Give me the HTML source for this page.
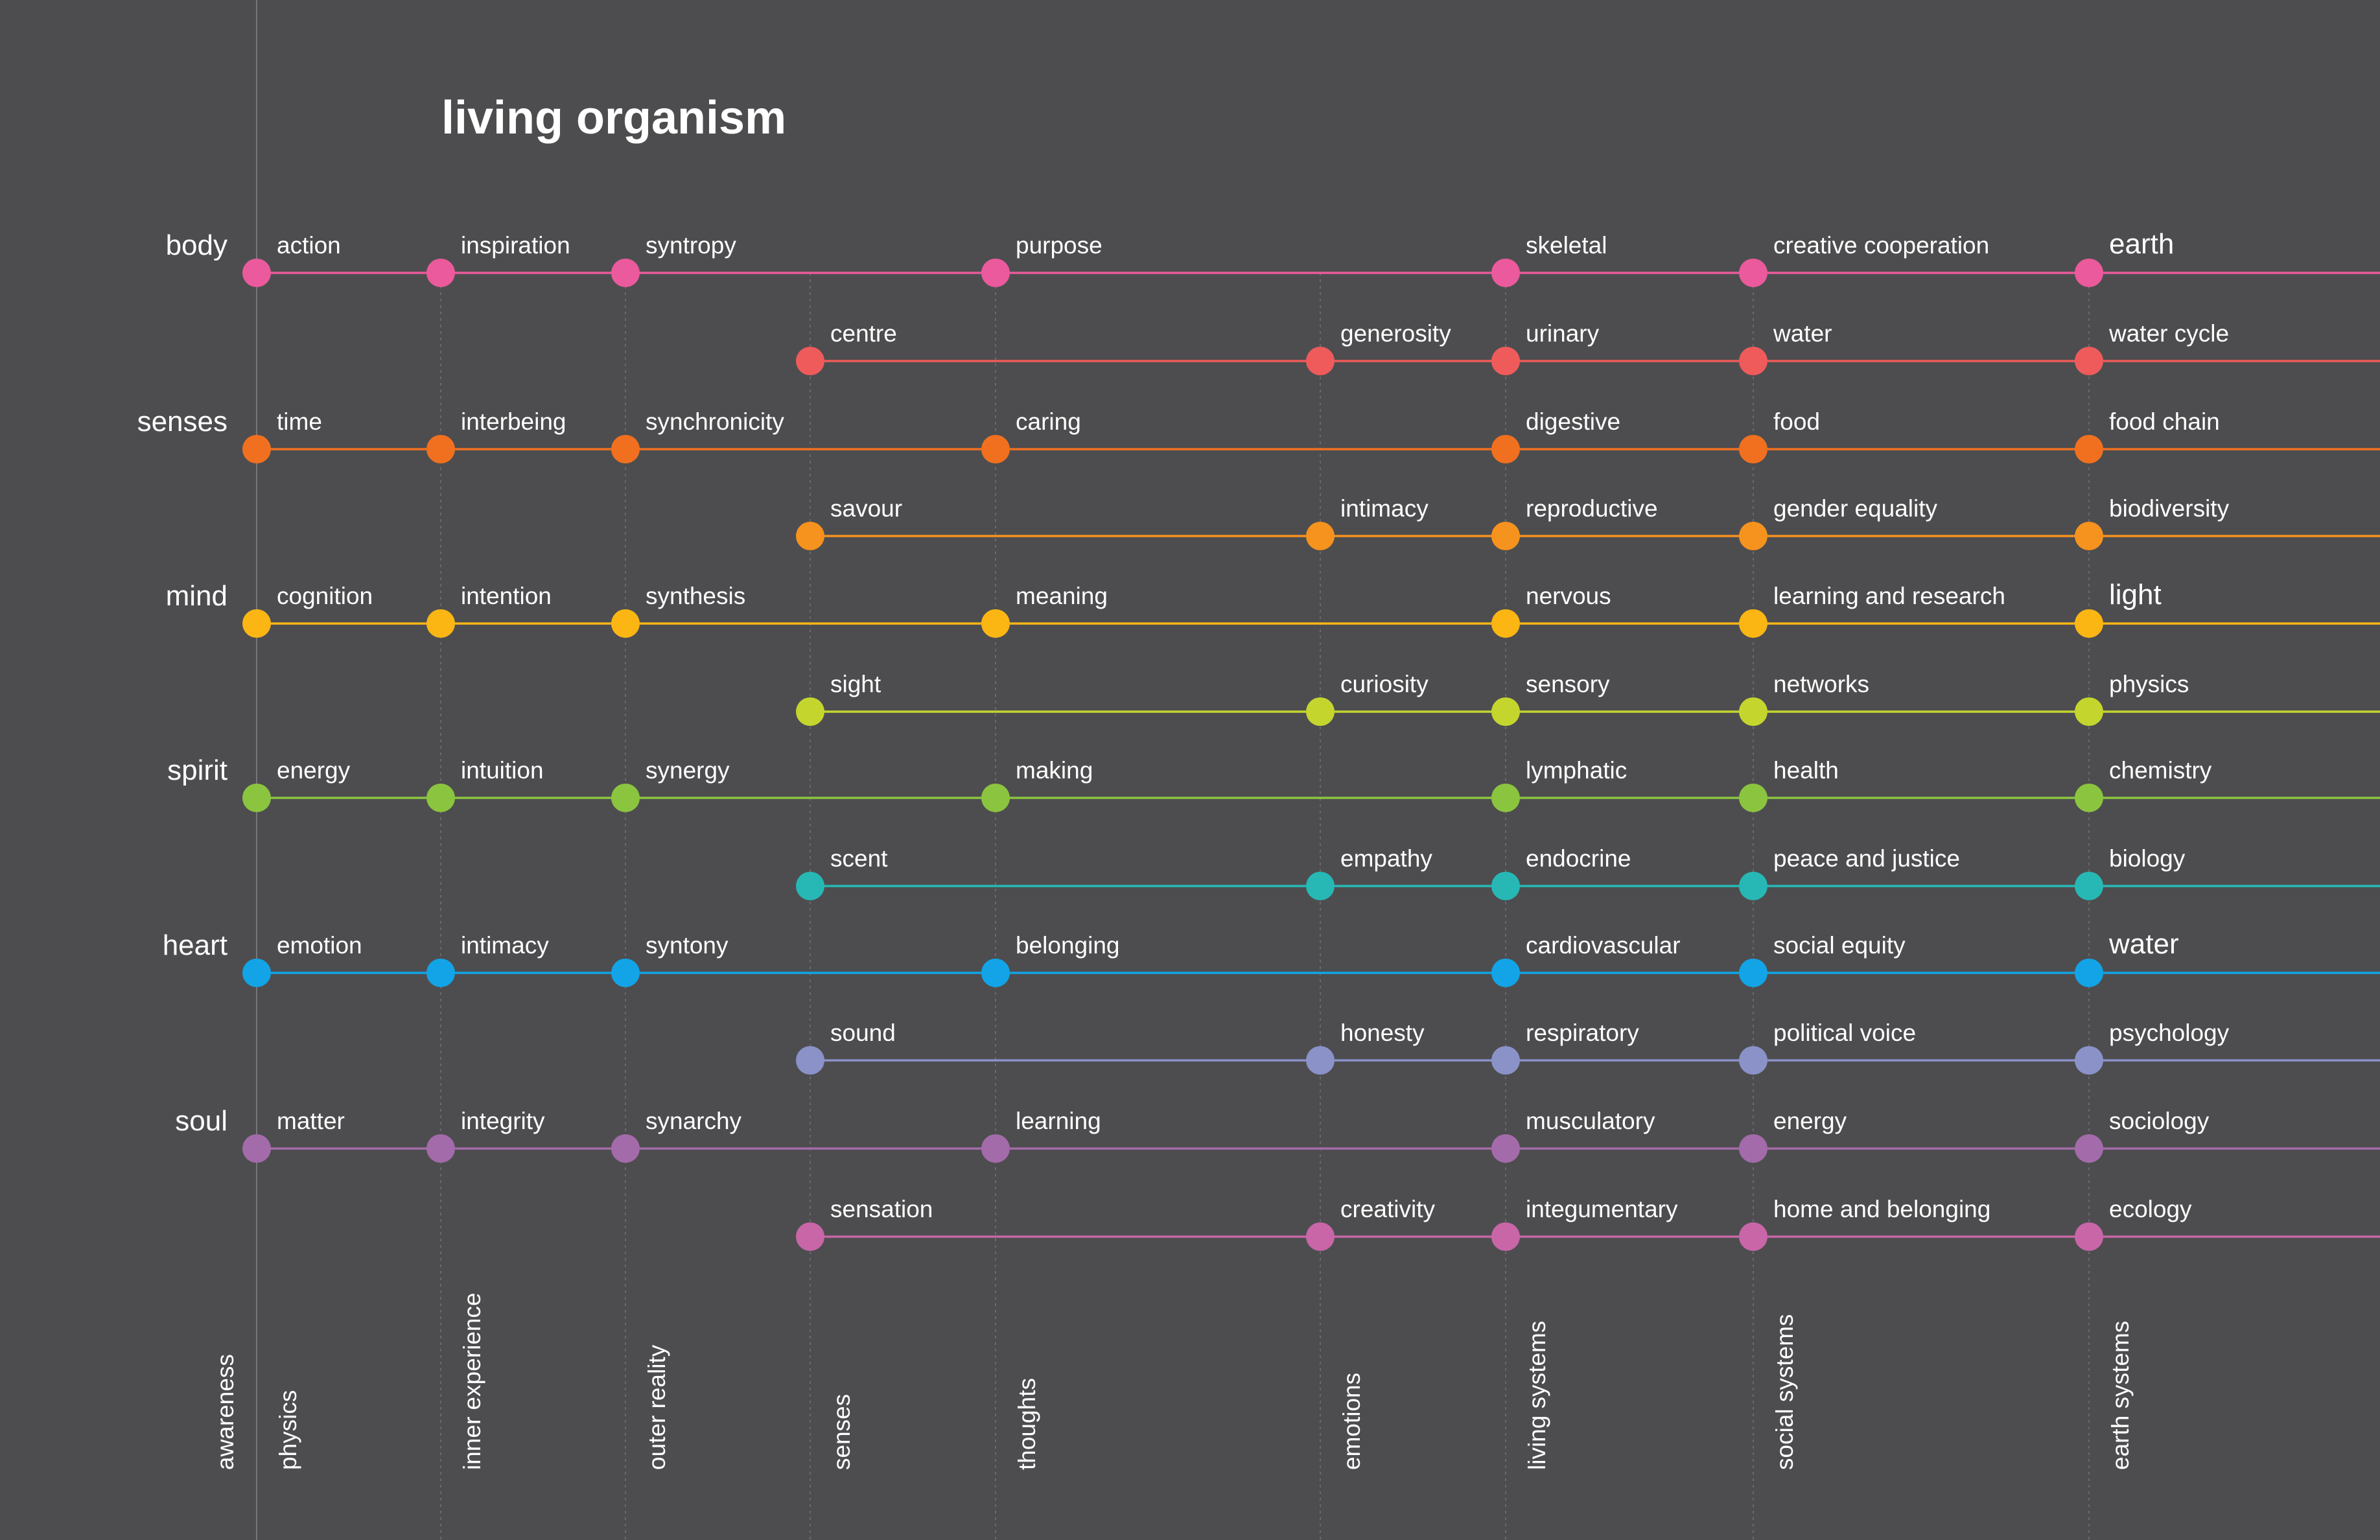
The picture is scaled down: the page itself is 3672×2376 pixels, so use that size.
<!DOCTYPE html>
<html><head><meta charset="utf-8">
<style>
html,body{margin:0;padding:0;background:#4d4d4f;}
svg{display:block;font-family:"Liberation Sans",sans-serif;}
</style></head>
<body>
<svg id="chart" width="3672" height="2376" viewBox="0 0 3672 2376" xmlns="http://www.w3.org/2000/svg">
<rect width="3672" height="2376" fill="#4d4d4f"/>
<text x="681" y="206" font-size="72" font-weight="bold" fill="#ffffff">living organism</text>
</svg>
<script>
const columnX = [396, 680, 965, 1250, 1536, 2037, 2323, 2705, 3223];
const rowY = [421, 557, 693, 827, 962, 1098, 1231, 1367, 1501, 1636, 1772, 1908];
const rowColors = ["#ea5a9c","#ef5b5b","#f1701f","#f6921e","#fbb614","#c4d62e","#8bc53f","#27b8b5","#12a4e6","#8a92c8","#a36ba9","#c866a8"];
const rowLabels = ["body","","senses","","mind","","spirit","","heart","","soul",""];
const rowNodes = [
 [[0,"action"],[1,"inspiration"],[2,"syntropy"],[4,"purpose"],[6,"skeletal"],[7,"creative cooperation"],[8,"earth",1]],
 [[3,"centre"],[5,"generosity"],[6,"urinary"],[7,"water"],[8,"water cycle"]],
 [[0,"time"],[1,"interbeing"],[2,"synchronicity"],[4,"caring"],[6,"digestive"],[7,"food"],[8,"food chain"]],
 [[3,"savour"],[5,"intimacy"],[6,"reproductive"],[7,"gender equality"],[8,"biodiversity"]],
 [[0,"cognition"],[1,"intention"],[2,"synthesis"],[4,"meaning"],[6,"nervous"],[7,"learning and research"],[8,"light",1]],
 [[3,"sight"],[5,"curiosity"],[6,"sensory"],[7,"networks"],[8,"physics"]],
 [[0,"energy"],[1,"intuition"],[2,"synergy"],[4,"making"],[6,"lymphatic"],[7,"health"],[8,"chemistry"]],
 [[3,"scent"],[5,"empathy"],[6,"endocrine"],[7,"peace and justice"],[8,"biology"]],
 [[0,"emotion"],[1,"intimacy"],[2,"syntony"],[4,"belonging"],[6,"cardiovascular"],[7,"social equity"],[8,"water",1]],
 [[3,"sound"],[5,"honesty"],[6,"respiratory"],[7,"political voice"],[8,"psychology"]],
 [[0,"matter"],[1,"integrity"],[2,"synarchy"],[4,"learning"],[6,"musculatory"],[7,"energy"],[8,"sociology"]],
 [[3,"sensation"],[5,"creativity"],[6,"integumentary"],[7,"home and belonging"],[8,"ecology"]]
];
const columnLabels = ["physics","inner experience","outer reality","senses","thoughts","emotions","living systems","social systems","earth systems"];
const axisLabel = "awareness";

const NS = "http://www.w3.org/2000/svg";
const svg = document.getElementById("chart");
function mk(tag, attrs){const e=document.createElementNS(NS,tag);for(const k in attrs)e.setAttribute(k,attrs[k]);return e;}

columnX.forEach((x,i)=>{
  const l = mk("line", i===0 ? {x1:x,y1:0,x2:x,y2:2376,stroke:"#777779","stroke-width":2}
                              : {x1:x,y1:421,x2:x,y2:2376,stroke:"#6a6a6c","stroke-width":2,"stroke-dasharray":"4 6"});
  
  
  svg.appendChild(l);
});

rowNodes.forEach((nodes,r)=>{
  const y=rowY[r], c=rowColors[r];
  const x0=columnX[nodes[0][0]];
  const line=mk("line",{x1:x0,y1:y,x2:3672,y2:y,stroke:c,"stroke-width":3.5});
  
  
  svg.appendChild(line);
  if(rowLabels[r]){
    const t=mk("text",{x:351,y:y-28,"font-size":44,fill:"#ffffff","text-anchor":"end"});
    t.textContent=rowLabels[r];
    
    
    svg.appendChild(t);
  }
  nodes.forEach(n=>{
    const x=columnX[n[0]];
    const d=mk("circle",{cx:x,cy:y,r:22,fill:c});
    
    
    svg.appendChild(d);
    const t=mk("text",{x:x+31,y:y-30,"font-size":n[2]?44:37,fill:"#ffffff"});
    t.textContent=n[1];
    
    
    svg.appendChild(t);
  });
});

function vlabel(x,text){
  const t=mk("text",{x:0,y:0,"font-size":37,fill:"#ffffff",transform:"translate("+x+",2268) rotate(-90)"});
  t.textContent=text;
  
  
  svg.appendChild(t);
}
vlabel(columnX[0]-36, axisLabel);
columnLabels.forEach((s,i)=>vlabel(columnX[i]+61, s));
</script>
</body></html>
